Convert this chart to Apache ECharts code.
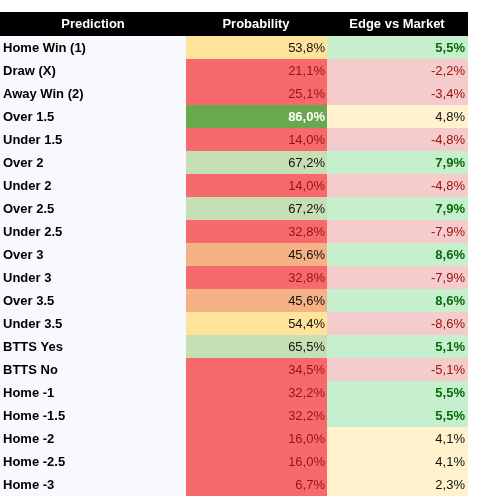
<!DOCTYPE html>
<html>
<head>
<meta charset="utf-8">
<script src="https://cdn.jsdelivr.net/npm/echarts@6/dist/echarts.min.js"></script>
<style>html,body{margin:0;padding:0;background:#fff}#chart{width:500px;height:496px}</style>
</head>
<body>
<div id="chart"></div>
<script>
var headers = ['Prediction', 'Probability', 'Edge vs Market'];
var predictions = ['Home Win (1)', 'Draw (X)', 'Away Win (2)', 'Over 1.5', 'Under 1.5', 'Over 2', 'Under 2',
	'Over 2.5', 'Under 2.5', 'Over 3', 'Under 3', 'Over 3.5', 'Under 3.5', 'BTTS Yes', 'BTTS No',
	'Home -1', 'Home -1.5', 'Home -2', 'Home -2.5', 'Home -3'];
var probability = [53.8, 21.1, 25.1, 86.0, 14.0, 67.2, 14.0, 67.2, 32.8, 45.6, 32.8, 45.6, 54.4, 65.5, 34.5,
	32.2, 32.2, 16.0, 16.0, 6.7];
var edge = [5.5, -2.2, -3.4, 4.8, -4.8, 7.9, -4.8, 7.9, -7.9, 8.6, -7.9, 8.6, -8.6, 5.1, -5.1,
	5.5, 5.5, 4.1, 4.1, 2.3];

// column bounds in axis units (0..468 px wide table)
var cols = [0, 186, 327, 468];
var font = '"Liberation Sans", Arial, sans-serif';

function fmt(v) { return v.toFixed(1).replace('.', ',') + '%'; }

function probStyle(v) {
	if (v >= 80) return { bg: '#6aa84f', fg: '#ffffff', bold: true };
	if (v >= 60) return { bg: '#c7dfb5', fg: '#111111' };
	if (v >= 50) return { bg: '#fee49a', fg: '#111111' };
	if (v >= 40) return { bg: '#f5b284', fg: '#111111' };
	return { bg: '#f8696b', fg: '#9c1010' };
}
function edgeStyle(v) {
	if (v >= 5) return { bg: '#c6efce', fg: '#0a6a0a', bold: true };
	if (v < 0) return { bg: '#f4cccc', fg: '#a01010' };
	return { bg: '#fff2cc', fg: '#111111' };
}

var rows = predictions.map(function(p, i) { return [i, probability[i], edge[i]]; });

var myChart = echarts.init(document.getElementById('chart'));
var option = {
	animation: false,
	grid: { left: 0, right: 32, top: 36, bottom: -7 },
	xAxis: { type: 'value', min: 0, max: 468, show: false },
	yAxis: { type: 'category', data: predictions, inverse: true, show: false },
	graphic: [
		{ type: 'rect', shape: { x: 0, y: 12, width: 468, height: 24 }, style: { fill: '#000' } },
		{ type: 'text', x: 93, y: 24, style: { text: headers[0], fill: '#fff', font: 'bold 13px ' + font, align: 'center', verticalAlign: 'middle' } },
		{ type: 'text', x: 256, y: 24, style: { text: headers[1], fill: '#fff', font: 'bold 13px ' + font, align: 'center', verticalAlign: 'middle' } },
		{ type: 'text', x: 397, y: 24, style: { text: headers[2], fill: '#fff', font: 'bold 13px ' + font, align: 'center', verticalAlign: 'middle' } }
	],
	series: [{
		type: 'custom',
		data: rows,
		encode: { y: 0 },
		renderItem: function(params, api) {
			var i = api.value(0);
			var h = api.size([0, 1])[1];
			var p0 = api.coord([cols[0], i]), p1 = api.coord([cols[1], i]);
			var p2 = api.coord([cols[2], i]), p3 = api.coord([cols[3], i]);
			var top = p0[1] - h / 2, cy = p0[1] + 1;
			var ps = probStyle(api.value(1)), es = edgeStyle(api.value(2));
			return {
				type: 'group',
				children: [
					{ type: 'rect', shape: { x: p0[0], y: top, width: p1[0] - p0[0], height: h }, style: { fill: '#f7f9fd' } },
					{ type: 'rect', shape: { x: p1[0], y: top, width: p2[0] - p1[0], height: h }, style: { fill: ps.bg } },
					{ type: 'rect', shape: { x: p2[0], y: top, width: p3[0] - p2[0], height: h }, style: { fill: es.bg } },
					{ type: 'text', x: p0[0] + 3, y: cy, style: { text: predictions[i], fill: '#000', font: 'bold 13px ' + font, verticalAlign: 'middle' } },
					{ type: 'text', x: p2[0] - 2, y: cy, style: { text: fmt(api.value(1)), fill: ps.fg, font: (ps.bold ? 'bold ' : '') + '13px ' + font, align: 'right', verticalAlign: 'middle' } },
					{ type: 'text', x: p3[0] - 3, y: cy, style: { text: fmt(api.value(2)), fill: es.fg, font: (es.bold ? 'bold ' : '') + '13px ' + font, align: 'right', verticalAlign: 'middle' } }
				]
			};
		}
	}]
};
myChart.setOption(option);
</script>
</body>
</html>
